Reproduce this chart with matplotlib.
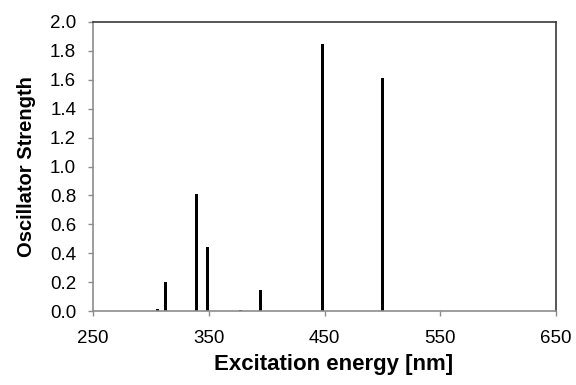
import matplotlib
matplotlib.use("Agg")
import matplotlib.pyplot as plt

# Excitation wavelengths (nm) and oscillator strengths of the computed transitions
wavelengths = [257.5, 276, 300.7, 306, 312.5, 339, 349, 377.6, 395, 448, 500]
strengths = [0.002, 0.002, 0.003, 0.012, 0.20, 0.81, 0.44, 0.006, 0.145, 1.85, 1.61]

x_ticks = [250, 350, 450, 550, 650]
y_ticks = [0.0, 0.2, 0.4, 0.6, 0.8, 1.0, 1.2, 1.4, 1.6, 1.8, 2.0]

plt.rcParams['font.family'] = ['Liberation Sans', 'DejaVu Sans']

fig = plt.figure(figsize=(5.76, 3.85), dpi=100)
ax = fig.add_axes([0.1615, 0.192, 0.8038, 0.751])

ax.bar(wavelengths, strengths, width=2.6, color='black', linewidth=0)

ax.set_xlim(250, 650)
ax.set_ylim(0, 2.0)
ax.set_xticks(x_ticks)
ax.set_yticks(y_ticks)
ax.set_yticklabels([f"{v:.1f}" for v in y_ticks])

for side in ('left', 'bottom'):
    ax.spines[side].set_color('#8c8c8c')
    ax.spines[side].set_linewidth(1.2)
for side in ('top', 'right'):
    ax.spines[side].set_color('#3a3a3a')
    ax.spines[side].set_linewidth(1.2)

ax.tick_params(axis='both', direction='out', length=3.6, width=1, color='#8c8c8c',
               labelsize=13.5, labelcolor='black')
ax.tick_params(axis='x', pad=10)
ax.tick_params(axis='y', pad=8.5)

ax.set_xlabel('Excitation energy [nm]', fontsize=16, fontweight='bold', labelpad=7)
ax.xaxis.set_label_coords(0.52, -0.15)
ax.set_ylabel('Oscillator Strength', fontsize=14.5, fontweight='bold', labelpad=10)

fig.savefig('out.png', dpi=100, facecolor='white')
